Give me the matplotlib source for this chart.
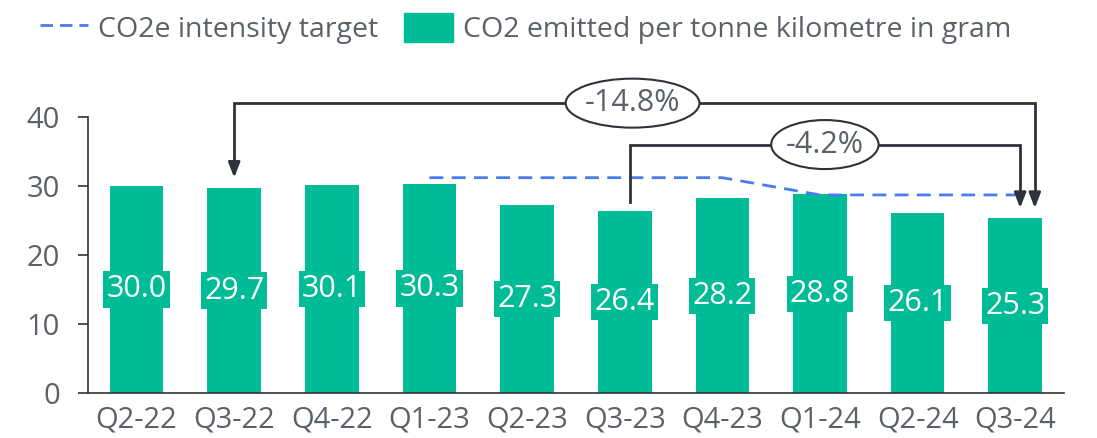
import matplotlib
matplotlib.use("Agg")
import matplotlib.pyplot as plt
import numpy as np
from matplotlib.patches import Ellipse
from matplotlib.lines import Line2D
from matplotlib.patches import Patch

categories = ["Q2-22", "Q3-22", "Q4-22", "Q1-23", "Q2-23", "Q3-23", "Q4-23", "Q1-24", "Q2-24", "Q3-24"]
co2_values = [30.0, 29.7, 30.1, 30.3, 27.3, 26.4, 28.2, 28.8, 26.1, 25.3]
target_values = [np.nan, np.nan, np.nan, 31.2, 31.2, 31.2, 31.2, 28.7, 28.7, 28.7]
yticks = [0, 10, 20, 30, 40]
change_labels = ["-14.8%", "-4.2%"]
series_names = ["CO2e intensity target", "CO2 emitted per tonne kilometre in gram"]

GREEN = "#00BC96"
BLUE = "#4A7CF0"
GRAY = "#5B6069"
DARK = "#30323B"

plt.rcParams['font.family'] = ['Open Sans', 'DejaVu Sans']

fig = plt.figure(figsize=(10.97, 4.38), dpi=100)
ax = fig.add_axes([0.080, 0.1027, 0.890, 0.6303])

x = np.arange(len(categories))
ax.plot(x, target_values, color=BLUE, lw=2, dashes=(5, 3), zorder=3)
ax.bar(x, co2_values, width=0.55, color=GREEN, zorder=2)

for xi, v in zip(x, co2_values):
    ax.text(xi, v / 2, f"{v:.1f}", ha="center", va="center", color="white", fontsize=22,
            bbox=dict(boxstyle="square,pad=0.1", fc=GREEN, ec="none"), zorder=4)

ax.set_xlim(-0.5, 9.5)
ax.set_ylim(0, 40)
ax.set_yticks(yticks)
ax.set_xticks(x)
ax.set_xticklabels(categories)
for s in ["top", "right"]:
    ax.spines[s].set_visible(False)
for s in ["left", "bottom"]:
    ax.spines[s].set_color(DARK)
    ax.spines[s].set_linewidth(1.2)
ax.tick_params(axis="y", length=7, width=1.2, color=DARK, labelsize=21, labelcolor=GRAY, pad=13)
ax.tick_params(axis="x", length=0, labelsize=21, labelcolor=GRAY, pad=9)

# Annotations
def bracket(x0, x1, y_level, y_left_end, y_right_end, left_arrow, label, cx, ew):
    ax.plot([x0, x0, x1, x1], [y_left_end if not left_arrow else y_left_end + 1.6, y_level, y_level, y_right_end + 1.6],
            color=DARK, lw=2, clip_on=False, zorder=5, solid_joinstyle="miter")
    if left_arrow:
        ax.annotate("", xy=(x0, y_left_end), xytext=(x0, y_left_end + 2.0),
                    arrowprops=dict(arrowstyle="-|>,head_length=0.9,head_width=0.35", color=DARK, lw=2,
                                    shrinkA=0, shrinkB=0), annotation_clip=False, zorder=5)
    ax.annotate("", xy=(x1, y_right_end), xytext=(x1, y_right_end + 2.0),
                arrowprops=dict(arrowstyle="-|>,head_length=0.9,head_width=0.35", color=DARK, lw=2,
                                shrinkA=0, shrinkB=0), annotation_clip=False, zorder=5)
    e = Ellipse((cx, y_level), width=ew, height=7.1, fc="white", ec=DARK, lw=1.5,
                clip_on=False, zorder=6)
    ax.add_patch(e)
    ax.text(cx, y_level, label, ha="center", va="center", fontsize=22, color=GRAY,
            zorder=7, clip_on=False)

bracket(1, 9.2, 42, co2_values[1] + 1.5, co2_values[9] + 1.5, True, change_labels[0], 5.08, 1.37)
bracket(5.05, 9.05, 36, co2_values[5] + 1.3, co2_values[9] + 1.5, False, change_labels[1], 7.05, 1.1)

handles = [Line2D([], [], color=BLUE, lw=2, dashes=(4.5, 2.5)), Patch(color=GREEN)]
leg = fig.legend(handles, series_names, loc="upper left", bbox_to_anchor=(0.0365, 0.97),
                 ncol=2, frameon=False, fontsize=20.5, labelcolor=GRAY, handlelength=1.7,
                 handleheight=1.2, columnspacing=0.9, handletextpad=0.35, borderpad=0,
                 borderaxespad=0)

fig.savefig("out.png", dpi=100)
